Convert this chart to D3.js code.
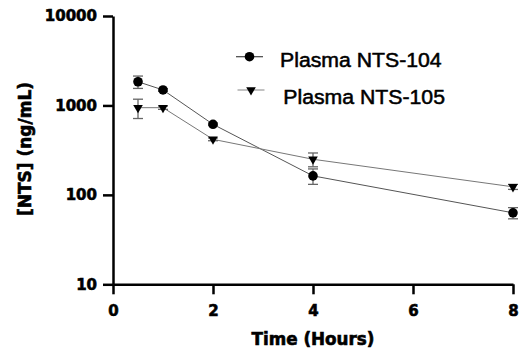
<!DOCTYPE html>
<html>
<head>
<meta charset="utf-8">
<script src="https://cdn.jsdelivr.net/npm/d3@7"></script>
<style>
  body { margin: 0; background: #fff; }
  .axis path, .axis line { stroke: #000; stroke-width: 2.5; }
  .axis text { font-family: "DejaVu Sans"; font-weight: bold; font-size: 15px; fill: #000; stroke: #000; stroke-width: 0.6; }
  .title { font-family: "DejaVu Sans"; font-weight: bold; fill: #000; stroke: #000; stroke-width: 0.6; }
</style>
</head>
<body>
<div id="chart"></div>
<script>
// data
var time = [0.5, 1, 2, 4, 8];
var nts104 = [1840, 1490, 615, 163, 63];
var nts104Sem = [290, 50, 20, 32, 9];
var nts105 = [944, 944, 418, 250, 123];
var nts105Sem = [230, 40, 15, 44, 8];
var xTicks = [0, 2, 4, 6, 8];
var yTicks = [10, 100, 1000, 10000];
var seriesNames = ["Plasma NTS-104", "Plasma NTS-105"];

var width = 520, height = 354;

var svg = d3.select("#chart").append("svg")
  .attr("width", width)
  .attr("height", height);

var xScale = d3.scaleLinear().domain([0, 8]).range([113, 513]);
var yScale = d3.scaleLog().domain([10, 10000]).range([284.3, 16]);

// axes
svg.append("g")
  .attr("class", "axis")
  .attr("transform", "translate(0,284.3)")
  .call(d3.axisBottom(xScale).tickValues(xTicks).tickSize(10).tickSizeOuter(0).tickPadding(11).tickFormat(d3.format("d")));

svg.append("g")
  .attr("class", "axis")
  .attr("transform", "translate(113,0)")
  .call(d3.axisLeft(yScale).tickValues(yTicks).tickSize(10).tickSizeOuter(0).tickPadding(6).tickFormat(d3.format("d")));

// axis titles
svg.append("text")
  .attr("class", "title")
  .attr("x", xScale(4))
  .attr("y", 345)
  .attr("text-anchor", "middle")
  .style("font-size", "16.8px")
  .text("Time (Hours)");

svg.append("text")
  .attr("class", "title")
  .attr("transform", "translate(31,149) rotate(-90)")
  .attr("text-anchor", "middle")
  .style("font-size", "17px")
  .text("[NTS] (ng/mL)");

var series = [
  { name: seriesNames[0], y: nts104, sem: nts104Sem, shape: "circle", color: "#555" },
  { name: seriesNames[1], y: nts105, sem: nts105Sem, shape: "triangle", color: "#777" }
];

var triangle = d3.symbol().type(d3.symbolTriangle).size(40);

function drawMarker(g, shape, x, y) {
  if (shape === "circle") {
    g.append("circle").attr("cx", x).attr("cy", y).attr("r", 4.8).attr("fill", "#000");
  } else {
    g.append("path").attr("d", triangle())
      .attr("transform", "translate(" + x + "," + y + ") rotate(180)")
      .attr("fill", "#000");
  }
}

series.forEach(function(s) {
  var pts = time.map(function(t, i) { return { t: t, v: s.y[i], e: s.sem[i] }; });

  var line = d3.line()
    .x(function(d) { return xScale(d.t); })
    .y(function(d) { return yScale(d.v); });

  svg.append("path")
    .datum(pts)
    .attr("d", line)
    .attr("fill", "none")
    .attr("stroke", s.color)
    .attr("stroke-width", 1);

  // error bars
  var eb = svg.append("g").attr("stroke", "#666").attr("stroke-width", 1.3);
  pts.forEach(function(d) {
    var x = xScale(d.t);
    var y1 = yScale(d.v + d.e), y2 = yScale(d.v - d.e);
    eb.append("line").attr("x1", x).attr("x2", x).attr("y1", y1).attr("y2", y2);
    eb.append("line").attr("x1", x - 5).attr("x2", x + 5).attr("y1", y1).attr("y2", y1);
    eb.append("line").attr("x1", x - 5).attr("x2", x + 5).attr("y1", y2).attr("y2", y2);
  });

  var mg = svg.append("g");
  pts.forEach(function(d) { drawMarker(mg, s.shape, xScale(d.t), yScale(d.v)); });
});

// legend
var legendY = [56.7, 90];
var legendX = [249.5, 251];
var legendText = [[280, 66.7], [283.3, 104.3]];
series.forEach(function(s, i) {
  var lg = svg.append("g");
  lg.append("line")
    .attr("x1", legendX[i] - 13.5).attr("x2", legendX[i] + 13.5)
    .attr("y1", legendY[i]).attr("y2", legendY[i])
    .attr("stroke", i === 0 ? "#444" : "#999").attr("stroke-width", 1.2);
  drawMarker(lg, s.shape, legendX[i], legendY[i]);
  lg.append("text")
    .attr("transform", "translate(" + legendText[i][0] + "," + legendText[i][1] + ") scale(1.09,1)")
    .style("font-family", "Liberation Sans")
    .style("font-size", "19.5px")
    .style("fill", "#000")
    .style("stroke", "#000")
    .style("stroke-width", 0.5)
    .text(s.name);
});
</script>
</body>
</html>
